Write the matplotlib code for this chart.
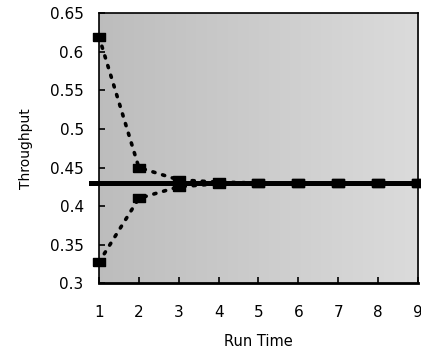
import matplotlib
matplotlib.use("Agg")
import matplotlib.pyplot as plt
import numpy as np

run_time = [1, 2, 3, 4, 5, 6, 7, 8, 9]
upper = [0.62, 0.45, 0.434, 0.431, 0.430, 0.430, 0.430, 0.430, 0.430]
lower = [0.327, 0.41, 0.425, 0.429, 0.430, 0.430, 0.430, 0.430, 0.430]
steady = 0.43
yticks = [0.3, 0.35, 0.4, 0.45, 0.5, 0.55, 0.6, 0.65]
ytick_labels = ["0.3", "0.35", "0.4", "0.45", "0.5", "0.55", "0.6", "0.65"]

plt.rcParams['font.family'] = ['DejaVu Sans']

fig = plt.figure(figsize=(4.21, 3.53), dpi=100)
ax = fig.add_axes([0.235, 0.198, 0.758, 0.764])

# stippled-gray background, slightly darker on the left
g = np.linspace(0.74, 0.86, 256)
bg = np.dstack([g, g, g]).reshape(1, -1, 3)
ax.imshow(bg, extent=(1, 9, 0.3, 0.65), aspect='auto', zorder=0,
          interpolation='bilinear')

rect = [(-1, -0.62), (1, -0.62), (1, 0.62), (-1, 0.62), (-1, -0.62)]

ax.axhline(steady, xmin=-0.024, xmax=1.0, color='black', lw=3.6, clip_on=False, zorder=3)
for series in (upper, lower):
    ax.plot(run_time, series, color='black', lw=2.6, ls=(0, (0.6, 2.2)),
            dash_capstyle='round', marker=rect, ms=8.5, zorder=4, clip_on=False)

ax.set_xlim(1, 9)
ax.set_ylim(0.3, 0.65)
ax.set_xticks(run_time)
ax.set_xticklabels([str(v) for v in run_time])
ax.set_yticks(yticks)
ax.set_yticklabels(ytick_labels)
ax.tick_params(axis='both', direction='in', length=4, width=1.2, labelsize=11)
ax.tick_params(axis='y', pad=11)
ax.tick_params(axis='x', pad=16)
for s in ax.spines.values():
    s.set_linewidth(1.2)
ax.spines['bottom'].set_linewidth(2)

ax.set_xlabel('Run Time', fontsize=10.5, labelpad=10)
ax.set_ylabel('Throughput', fontsize=10, labelpad=12)

fig.savefig('out.png', dpi=100)
